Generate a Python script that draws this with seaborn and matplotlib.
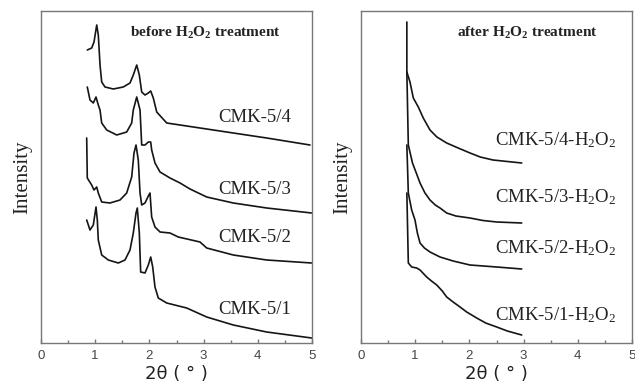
import pandas as pd
import matplotlib
matplotlib.use("Agg")
import matplotlib.pyplot as plt
import seaborn as sns

# 2theta (deg) and intensity (a.u.)
# --- before H2O2 treatment ---
cmk1_x = [0.843, 0.904, 0.965, 1.015, 1.039, 1.057, 1.120, 1.242, 1.426, 1.550, 1.642, 1.703, 1.753,
          1.777, 1.814, 1.839, 1.919, 1.980, 2.024, 2.061, 2.103, 2.164, 2.319, 2.688, 3.057, 3.548,
          4.164, 4.994]
cmk1_y = [123, 113, 118, 136, 123, 103, 88, 83, 80, 83, 93, 110, 130,
          135, 110, 71, 70, 78, 86, 76, 56, 45, 40, 35, 26, 18,
          11, 5]

cmk2_x = [0.843, 0.854, 0.935, 0.978, 1.028, 1.057, 1.120, 1.273, 1.458, 1.581, 1.673, 1.716, 1.753,
          1.795, 1.827, 1.858, 1.919, 1.980, 2.011, 2.042, 2.103, 2.196, 2.380, 2.533, 2.934, 3.057,
          3.548, 4.164, 4.994]
cmk2_y = [205, 165, 158, 153, 156, 150, 141, 140, 143, 150, 166, 190, 198,
          183, 150, 138, 140, 147, 150, 126, 116, 111, 110, 106, 101, 95,
          88, 83, 80]

cmk3_x = [0.854, 0.904, 0.965, 1.015, 1.057, 1.089, 1.120, 1.212, 1.397, 1.581, 1.673, 1.703, 1.766,
          1.827, 1.858, 1.919, 1.980, 2.024, 2.042, 2.103, 2.196, 2.380, 2.565, 2.749, 3.057, 3.548,
          4.164, 4.994]
cmk3_y = [256, 243, 240, 246, 238, 233, 220, 213, 208, 211, 220, 233, 246,
          233, 198, 198, 201, 201, 193, 180, 171, 165, 160, 154, 146, 140,
          135, 130]

cmk4_x = [0.854, 0.935, 0.978, 1.028, 1.057, 1.089, 1.120, 1.181, 1.334, 1.518, 1.642, 1.703, 1.766,
          1.814, 1.858, 1.919, 1.980, 2.024, 2.072, 2.135, 2.319, 2.934, 3.548, 4.164, 4.963]
cmk4_y = [293, 295, 301, 318, 308, 278, 261, 256, 254, 256, 260, 268, 278,
          268, 251, 248, 250, 252, 245, 231, 220, 215, 210, 205, 198]

# --- after H2O2 treatment ---
h4_x = [0.846, 0.846, 0.904, 0.965, 1.057, 1.149, 1.273, 1.40, 1.581, 1.75, 2.011, 2.20, 2.435, 2.70, 2.965]
h4_y = [321, 271, 261, 245, 236, 225, 213, 206, 200, 196, 190, 186, 183, 181.5, 180]

h3_x = [0.846, 0.873, 0.95, 1.02, 1.089, 1.18, 1.273, 1.37, 1.458, 1.581, 1.75, 2.011, 2.25, 2.504, 2.965]
h3_y = [271, 198, 180, 170, 160, 150, 143, 138, 135, 130, 127, 125, 122.5, 121, 120]

h2_x = [0.846, 0.873, 0.935, 0.996, 1.04, 1.089, 1.17, 1.273, 1.458, 1.70, 2.011, 2.504, 2.965]
h2_y = [198, 150, 133, 123, 110, 100, 95, 91, 86, 82, 78, 76, 74]

h1_x = [0.846, 0.873, 0.935, 1.028, 1.089, 1.212, 1.30, 1.397, 1.50, 1.581, 1.70, 1.827, 1.95, 2.135,
        2.30, 2.504, 2.70, 2.965]
h1_y = [150, 80, 76, 75, 73, 66, 62, 58, 52, 46, 41, 36, 31, 25, 20, 16, 12, 8]

before_names = ["CMK-5/1", "CMK-5/2", "CMK-5/3", "CMK-5/4"]
after_names = ["CMK-5/1-H$_2$O$_2$", "CMK-5/2-H$_2$O$_2$", "CMK-5/3-H$_2$O$_2$", "CMK-5/4-H$_2$O$_2$"]

before = [(cmk1_x, cmk1_y), (cmk2_x, cmk2_y), (cmk3_x, cmk3_y), (cmk4_x, cmk4_y)]
after = [(h1_x, h1_y), (h2_x, h2_y), (h3_x, h3_y), (h4_x, h4_y)]

sns.set_theme(style="ticks")
plt.rcParams["font.family"] = ["Liberation Serif", "DejaVu Serif"]
plt.rcParams["mathtext.fontset"] = "custom"
plt.rcParams["mathtext.rm"] = "Liberation Serif"
plt.rcParams["mathtext.it"] = "Liberation Serif"
plt.rcParams["mathtext.bf"] = "Liberation Serif:bold"

fig = plt.figure(figsize=(6.35, 3.91), dpi=100)
ax1 = fig.add_axes([41 / 635, 48 / 391, 271 / 635, 332 / 391])
ax2 = fig.add_axes([361 / 635, 48 / 391, 271 / 635, 332 / 391])

def draw_panel(ax, curves):
    for x, y in curves:
        df = pd.DataFrame({"x": x, "y": y})
        sns.lineplot(data=df, x="x", y="y", ax=ax, color="#151515", lw=1.2,
                     sort=False, estimator=None)
    ax.set_xlim(0, 5)
    ax.set_ylim(0, 332)
    ax.set_xticks([0, 1, 2, 3, 4, 5])
    ax.set_xticks([0.5, 1.5, 2.5, 3.5, 4.5], minor=True)
    ax.set_yticks([])
    ax.tick_params(axis="x", which="major", direction="in", length=3, width=1,
                   color="#777777", labelcolor="#444444", pad=5)
    ax.tick_params(axis="x", which="minor", direction="in", length=2, width=1,
                   color="#777777")
    for lab in ax.get_xticklabels():
        lab.set_fontfamily("Liberation Sans")
        lab.set_fontsize(9.5)
    for s in ax.spines.values():
        s.set_color("#777777")
        s.set_linewidth(1)
    ax.set_xlabel("2θ ( ° )", fontfamily="DejaVu Sans", fontsize=13, color="#222222", labelpad=2)
    ax.set_ylabel("Intensity", fontsize=15, color="#222222", labelpad=6)

draw_panel(ax1, before)
draw_panel(ax2, after)

ax1.text(1.64, 310, "before H$_\\mathbf{2}$O$_\\mathbf{2}$ treatment", fontsize=11, fontweight="bold",
         ha="left", va="center", color="#222222")
ax2.text(1.77, 310, "after H$_\\mathbf{2}$O$_\\mathbf{2}$ treatment", fontsize=11, fontweight="bold",
         ha="left", va="center", color="#222222")

for name, ty in zip(before_names, [33, 106, 153, 225]):
    ax1.text(3.27, ty, name, fontsize=13.5, ha="left", va="center", color="#222222")
for name, ty in zip(after_names, [28, 95, 146, 203]):
    ax2.text(2.47, ty, name, fontsize=13.5, ha="left", va="center", color="#222222")

fig.savefig("out.png", dpi=100)
